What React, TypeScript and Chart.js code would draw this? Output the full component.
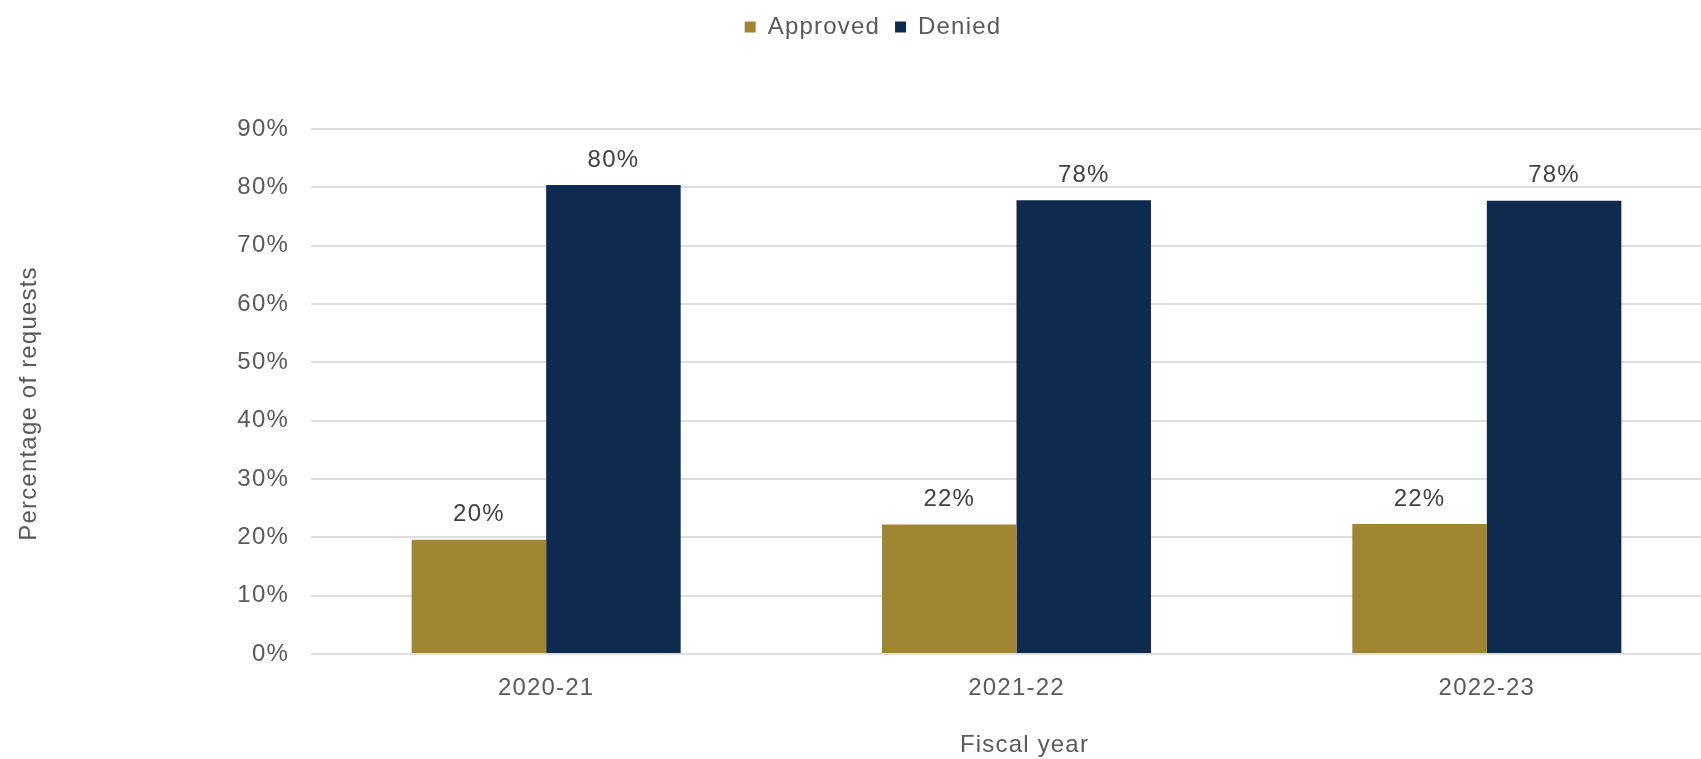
import React, { useEffect, useRef } from "react";
import { Chart, registerables } from "chart.js";

Chart.register(...registerables);

const categories = ["2020-21", "2021-22", "2022-23"];
const seriesNames = ["Approved", "Denied"];
const approvedValues = [19.6, 22.2, 22.3];
const deniedValues = [80.4, 77.8, 77.7];
const yTickValues = [0, 10, 20, 30, 40, 50, 60, 70, 80, 90];
const xAxisTitle = "Fiscal year";
const yAxisTitle = "Percentage of requests";

const FONT = '"Liberation Sans", Arial, Helvetica, sans-serif';
const TEXT = "#595959";
const W = 1740;
const H = 759;
const SPACING = "1.2px";

export default function App() {
  const ref = useRef<HTMLCanvasElement>(null);

  useEffect(() => {
    const canvas = ref.current;
    if (!canvas) return;

    const setSpacing = (chart: any) => {
      try {
        (chart.ctx as any).letterSpacing = SPACING;
      } catch (e) {}
    };

    const spacing = {
      id: "spacing",
      beforeUpdate: setSpacing,
      beforeLayout: setSpacing,
      beforeDraw: setSpacing,
      beforeDatasetsDraw: setSpacing,
    };

    const valueLabels = {
      id: "valueLabels",
      afterDatasetsDraw(chart: any) {
        const ctx = chart.ctx;
        ctx.save();
        ctx.font = `24px ${FONT}`;
        ctx.fillStyle = "#404040";
        ctx.textAlign = "center";
        ctx.textBaseline = "middle";
        chart.data.datasets.forEach((ds: any, i: number) => {
          const meta = chart.getDatasetMeta(i);
          meta.data.forEach((bar: any, j: number) => {
            const v = ds.data[j] as number;
            ctx.fillText(`${Math.round(v)}%`, bar.x, bar.y - 25);
          });
        });
        ctx.restore();
      },
    };

    const axisTitles = {
      id: "axisTitles",
      afterDraw(chart: any) {
        const ctx = chart.ctx;
        const area = chart.chartArea;
        ctx.save();
        ctx.font = `24px ${FONT}`;
        ctx.fillStyle = TEXT;
        ctx.textAlign = "center";
        ctx.textBaseline = "middle";
        ctx.fillText(xAxisTitle, (area.left + area.right) / 2 + 8, H - 14);
        ctx.translate(29, (area.top + area.bottom) / 2 + 12);
        ctx.rotate(-Math.PI / 2);
        ctx.fillText(yAxisTitle, 0, 0);
        ctx.restore();
      },
    };

    const legendSpace = {
      id: "legendSpace",
      beforeInit(chart: any) {
        const orig = chart.legend.fit;
        chart.legend.fit = function () {
          orig.bind(this)();
          this.height = 129;
        };
      },
      afterLayout(chart: any) {
        chart.legend.left += 12;
        chart.legend.right += 12;
      },
    };

    const chart = new Chart(canvas, {
      type: "bar",
      data: {
        labels: categories,
        datasets: [
          {
            label: seriesNames[0],
            data: approvedValues,
            backgroundColor: "#A08532",
            categoryPercentage: 0.572,
            barPercentage: 1,
          },
          {
            label: seriesNames[1],
            data: deniedValues,
            backgroundColor: "#0E2A4F",
            categoryPercentage: 0.572,
            barPercentage: 1,
          },
        ],
      },
      options: {
        responsive: false,
        animation: false,
        devicePixelRatio: 1,
        layout: { padding: { left: 0, right: 18, top: 0, bottom: 0 } },
        plugins: {
          legend: {
            position: "top",
            labels: {
              boxWidth: 11,
              boxHeight: 11,
              padding: 15,
              color: TEXT,
              font: { size: 24, family: FONT },
            },
          },
          tooltip: { enabled: false },
        },
        scales: {
          x: {
            grid: { display: false, drawTicks: false },
            border: { display: false },
            ticks: { color: TEXT, font: { size: 24, family: FONT }, padding: 20 },
            afterFit(scale: any) {
              scale.height = 105;
            },
          },
          y: {
            min: 0,
            max: 90,
            afterBuildTicks(scale: any) {
              scale.ticks = yTickValues.map((v) => ({ value: v }));
            },
            ticks: {
              color: TEXT,
              font: { size: 24, family: FONT },
              padding: 22,
              callback: (v: any) => `${v}%`,
            },
            grid: { color: "#DEDEDE", lineWidth: 2, drawTicks: false },
            border: { display: false },
            afterFit(scale: any) {
              scale.width = 311;
            },
          },
        },
      },
      plugins: [spacing, valueLabels, axisTitles, legendSpace],
    });

    return () => chart.destroy();
  }, []);

  return (
    <div
      style={{
        position: "fixed",
        left: 0,
        top: 0,
        width: "100vw",
        height: "100vh",
        overflow: "hidden",
        background: "#ffffff",
      }}
    >
      <canvas ref={ref} width={W} height={H} style={{ display: "block", width: W, height: H }} />
    </div>
  );
}
